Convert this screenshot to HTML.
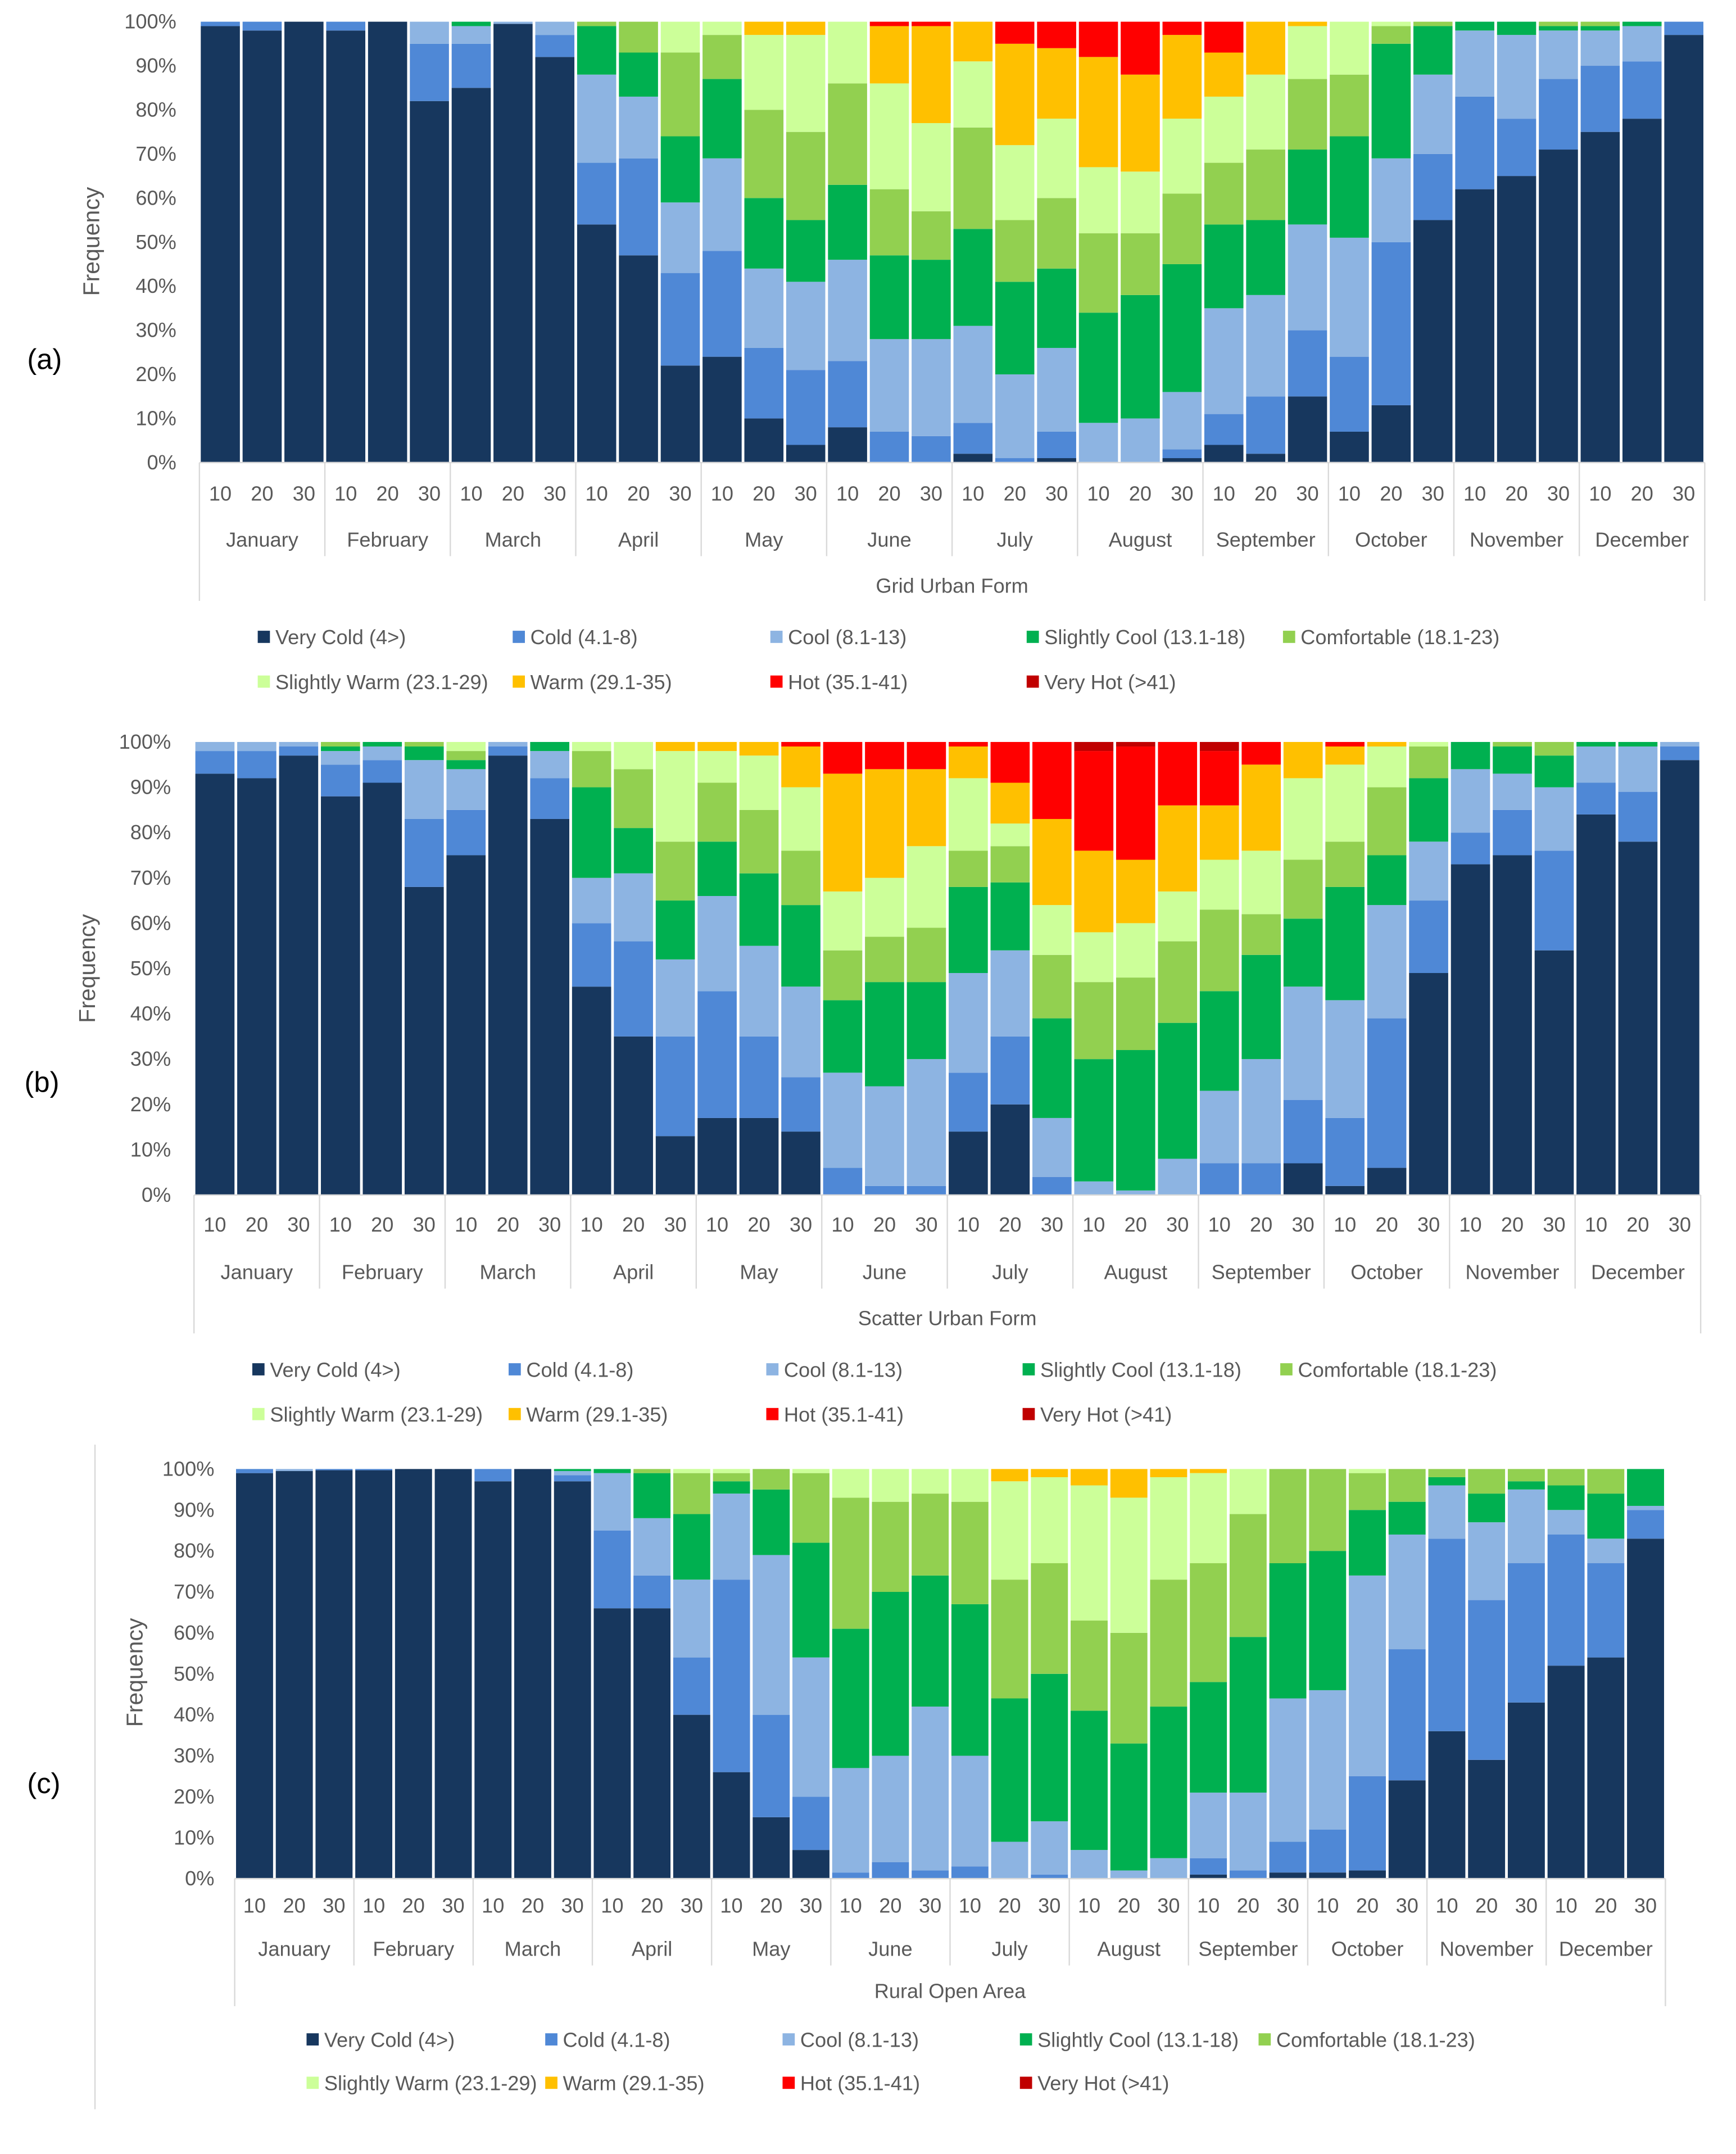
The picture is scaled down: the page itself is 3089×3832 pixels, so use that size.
<!DOCTYPE html>
<html><head><meta charset="utf-8"><style>
html,body{margin:0;padding:0;background:#fff}
svg{display:block}
text{font-family:"Liberation Sans",sans-serif;fill:#595959}
</style></head><body>
<svg id="fig" width="3089" height="3832" viewBox="0 0 1280 1588" xmlns="http://www.w3.org/2000/svg"></svg>
<script>
const months=["January","February","March","April","May","June","July","August","September","October","November","December"];
const days=["10","20","30"];
const seriesNames=["Very Cold (4>)","Cold (4.1-8)","Cool (8.1-13)","Slightly Cool (13.1-18)","Comfortable (18.1-23)","Slightly Warm (23.1-29)","Warm (29.1-35)","Hot (35.1-41)","Very Hot (>41)"];
const yTicks=["0%","10%","20%","30%","40%","50%","60%","70%","80%","90%","100%"];
const barsA=[[99,1],[98,2],[100],[98,2],[100],[82,13,5],[85,10,4,1],[99.5,0,0.5],[92,5,3],
[54,14,20,11,1],[47,22,14,10,7],[22,21,16,15,19,7],[24,24,21,18,10,3],[10,16,18,16,20,17,3],[4,17,20,14,20,22,3],
[8,15,23,17,23,14],[0,7,21,19,15,24,13,1],[0,6,22,18,11,20,22,1],[2,7,22,22,23,15,9],[0,1,19,21,14,17,23,5],[1,6,19,18,16,18,16,6],
[0,0,9,25,18,15,25,8],[0,0,10,28,14,14,22,12],[1,2,13,29,16,17,19,3],[4,7,24,19,14,15,10,7],[2,13,23,17,16,17,12],[15,15,24,17,16,12,1],
[7,17,27,23,14,12],[13,37,19,26,4,1],[55,15,18,11,1],[62,21,15,2],[65,13,19,3],[71,16,11,1,1],[75,15,8,1,1],[78,13,8,1],[97,3]];
const barsB=[[93,5,2],[92,6,2],[97,2,1],[88,7,3,1,1],[91,5,3,1],[68,15,13,3,1],[75,10,9,2,2,2],[97,2,1],[83,9,6,2],
[46,14,10,20,8,2],[35,21,15,10,13,6],[13,22,17,13,13,20,2],[17,28,21,12,13,7,2],[17,18,20,16,14,12,3],[14,12,20,18,12,14,9,1],
[0,6,21,16,11,13,26,7],[0,2,22,23,10,13,24,6],[0,2,28,17,12,18,17,6],[14,13,22,19,8,16,7,1],[20,15,19,15,8,5,9,9],[0,4,13,22,14,11,19,17],
[0,0,3,27,17,11,18,22,2],[0,0,1,31,16,12,14,25,1],[0,0,8,30,18,11,19,14],[0,7,16,22,18,11,12,12,2],[0,7,23,23,9,14,19,5],[7,14,25,15,13,18,8],
[2,15,26,25,10,17,4,1],[6,33,25,11,15,9,1],[49,16,13,14,7,1],[73,7,14,6],[75,10,8,6,1],[54,22,14,7,3],[84,7,8,1],[78,11,10,1],[96,3,1]];
const barsC=[[99,1],[99.5,0,0.5],[99.7,0.3],[99.7,0.3],[100],[100],[97,3],[100],[97,1.5,1,0.5],
[66,19,14,1],[66,8,14,11,1],[40,14,19,16,10,1],[26,47,21,3,2,1],[15,25,39,16,5],[7,13,34,28,17,1],
[0,1.5,25.5,34,32,7],[0,4,26,40,22,8],[0,2,40,32,20,6],[0,3,27,37,25,8],[0,0,9,35,29,24,3],[0,1,13,36,27,21,2],
[0,0,7,34,22,33,4],[0,0,2,31,27,33,7],[0,0,5,37,31,25,2],[1,4,16,27,29,22,1],[0,2,19,38,30,11],[1.5,7.5,35,33,23],
[1.5,10.5,34,34,20],[2,23,49,16,9,1],[24,32,28,8,8],[36,47,13,2,2],[29,39,19,7,6],[43,34,18,2,3],[52,32,6,6,4],[54,23,6,11,6],[83,7,1,9]];
const colors=["#17375e","#4f88d6","#8db4e2","#00b050","#92d050","#ccff99","#ffc000","#ff0000","#c00000"];
const NS="http://www.w3.org/2000/svg";
const svg=document.getElementById('fig');
function mk(tag,attrs,parent,txt){const e=document.createElementNS(NS,tag);for(const k in attrs)e.setAttribute(k,attrs[k]);if(txt!==undefined)e.textContent=txt;(parent||svg).appendChild(e);return e;}
const charts=[
 {id:"a",data:barsA,x0:147,x1:1257,yTop:16,yBot:341,tickY:364,monY:398,titleY:432,frameBot:443,title:"Grid Urban Form",legY:[470,503],legX:[190,378,568,757,946],lab:[20,265],freq:[73,178],yLabX:130},
 {id:"b",data:barsB,x0:143,x1:1254,yTop:547,yBot:881,tickY:903,monY:938,titleY:972,frameBot:983,title:"Scatter Urban Form",legY:[1010,1043],legX:[186,375,565,754,944],lab:[18,798],freq:[70,714],yLabX:126},
 {id:"c",data:barsC,x0:173,x1:1228,yTop:1083,yBot:1385,tickY:1405,monY:1437,titleY:1468,frameBot:1479,title:"Rural Open Area",legY:[1504,1536],legX:[226,402,577,752,928],lab:[20,1315],freq:[105,1233],yLabX:158}
];
mk('line',{x1:70,y1:1065,x2:70,y2:1555,stroke:'#d9d9d9','stroke-width':1});
charts.forEach(c=>{
 const g=mk('g',{});
 
 
 const n=c.data.length, slot=(c.x1-c.x0)/n;
 const xS=i=>c.x0+i*slot;
 const yS=v=>c.yBot-(v/100)*(c.yBot-c.yTop);
 c.data.forEach((row,i)=>{
  const tot=row.reduce((a,b)=>a+b,0);let cum=0;
  row.forEach((v,k)=>{ if(v<=0)return; const v0=cum/tot*100; cum+=v; const v1=cum/tot*100;
   const r=mk('rect',{x:xS(i)+1,y:yS(v1),width:slot-2,height:yS(v0)-yS(v1),fill:colors[k]},g);
   
   
  });
 });
 yTicks.forEach((t,k)=>{const tx=mk('text',{x:c.yLabX,y:yS(k*10)+5,'text-anchor':'end','font-size':15},g,t);
  });
 mk('line',{x1:c.x0,y1:c.yBot,x2:c.x1,y2:c.yBot,stroke:'#d9d9d9'},g);
 for(let m=0;m<=12;m++){const x=xS(m*3);mk('line',{x1:x,y1:c.yBot,x2:x,y2:(m==0||m==12)?c.frameBot:c.monY+12,stroke:'#d9d9d9'},g);}
 for(let i=0;i<n;i++){const t=mk('text',{x:xS(i)+slot/2,y:c.tickY+5,'text-anchor':'middle','font-size':15},g,days[i%3]);
  }
 months.forEach((m,k)=>{const t=mk('text',{x:xS(k*3)+slot*1.5,y:c.monY+5,'text-anchor':'middle','font-size':15},g,m);
  });
 const tt=mk('text',{x:(c.x0+c.x1)/2,y:c.titleY+5,'text-anchor':'middle','font-size':15},g,c.title);
 
 const fq=mk('text',{x:c.freq[0],y:c.freq[1],'text-anchor':'middle','font-size':17,transform:`rotate(-90 ${c.freq[0]} ${c.freq[1]})`},g,'Frequency');
 
 const lb=mk('text',{x:c.lab[0],y:c.lab[1]+7,'font-size':21,'font-family':'Liberation Serif',style:'fill:#000'},g,'('+c.id+')');
 
 seriesNames.forEach((s,k)=>{const row=k<5?0:1,col=k<5?k:k-5;const x=c.legX[col],y=c.legY[row];
  const lg=mk('g',{},g);
  mk('rect',{x:x,y:y-5,width:9,height:9,fill:colors[k]},lg);
  mk('text',{x:x+13,y:y+5,'font-size':15},lg,s);});
});
</script>
</body></html>
